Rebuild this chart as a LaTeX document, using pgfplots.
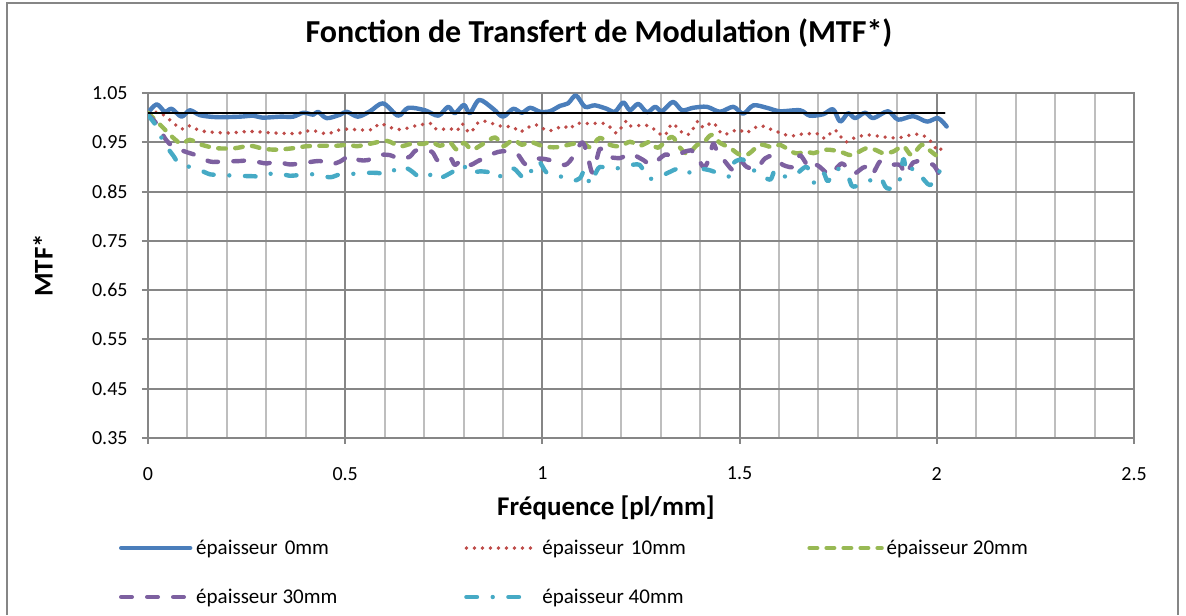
\documentclass[border=0pt]{standalone}
\usepackage{pgfplots}
\pgfplotsset{compat=1.18}
\usepackage{fontspec}
\setmainfont{Carlito}

\definecolor{s0}{HTML}{4A7EBB}
\definecolor{s10}{HTML}{BE4B48}
\definecolor{s20}{HTML}{98B954}
\definecolor{s30}{HTML}{7D60A0}
\definecolor{s40}{HTML}{46AAC5}
\definecolor{gridd}{RGB}{134,134,134}
\definecolor{gridl}{RGB}{190,190,190}

% legend symbol: line of length #1, cell of width #2
\pgfplotsset{limg/.style 2 args={legend image code/.code={%
  \draw[##1] (0pt,3pt) -- (#1,3pt); \path[draw=none] (0pt,0pt) -- (#2,0pt);}}}

\begin{document}
\begin{tikzpicture}
\useasboundingbox (0,0) rectangle (593pt,307.5pt);
\begin{axis}[
  at={(74pt,88.5pt)}, anchor=south west,
  scale only axis, width=493pt, height=172.5pt,
  xmin=0, xmax=2.5, ymin=0.35, ymax=1.05,
  xtick={0,0.5,1,1.5,2,2.5},
  minor xtick={0.1,0.2,0.3,0.4,0.6,0.7,0.8,0.9,1.1,1.2,1.3,1.4,1.6,1.7,1.8,1.9,2.1,2.2,2.3,2.4},
  ytick={0.35,0.45,0.55,0.65,0.75,0.85,0.95,1.05},
  yticklabel={\pgfmathprintnumber[fixed,fixed zerofill,precision=2]{\tick}},
  /pgf/number format/assume math mode=true,
  xmajorgrids, xminorgrids, ymajorgrids,
  major grid style={gridd, line width=1pt},
  minor grid style={gridl, line width=1pt},
  axis line style={gridd, line width=1pt},
  tick style={gridd, line width=1pt},
  tick align=outside, tick pos=left,
  major tick length=3pt, minor tick length=0pt,
  ticklabel style={font=\fontsize{10}{12}\selectfont, text=black},
  xticklabel style={yshift=-8pt},
  yticklabel style={xshift=-3.7pt},
  title={Fonction de Transfert de Modulation (MTF*)},
  title style={at={(axis description cs:0.4574,1.139)}, anchor=center,
    font=\fontsize{16}{19}\selectfont\bfseries},
  xlabel={Fréquence [pl/mm]},
  xlabel style={at={(axis description cs:0.4645,-0.203)}, anchor=center,
    font=\fontsize{13.5}{16}\selectfont\bfseries},
  ylabel={MTF*},
  ylabel style={at={(axis description cs:-0.1065,0.5)}, anchor=center,
    font=\fontsize{13.5}{16}\selectfont\bfseries},
  legend columns=3,
  legend cell align=left,
  legend style={at={(axis description cs:-0.02941,-0.2957)}, anchor=north west,
    draw=none, fill=none, inner sep=0pt, outer sep=0pt,
    /tikz/column sep=0pt, /tikz/row sep=15.3pt,
    font=\fontsize{10.5}{12}\selectfont,
    nodes={inner xsep=0pt, inner ysep=0pt, text height=7pt, text depth=2.2pt, anchor=base west}},
  every axis plot/.append style={smooth, line cap=round, line join=round},
]
% epaisseur 0mm
\addplot[s0, line width=2.2pt, limg={34.5pt}{37.5pt}] table {
0 1.010
0.022 1.027
0.043 1.012
0.06 1.018
0.085 1.002
0.106 1.015
0.132 1.005
0.174 1.001
0.233 1.002
0.267 1.004
0.29 1.000
0.335 1.002
0.368 1.002
0.394 1.010
0.419 1.006
0.431 1.012
0.453 0.999
0.487 1.006
0.504 1.012
0.532 1.002
0.563 1.013
0.596 1.029
0.634 1.004
0.66 1.020
0.702 1.015
0.736 1.004
0.761 1.022
0.778 1.009
0.801 1.026
0.816 1.009
0.84 1.036
0.875 1.018
0.9 1.002
0.926 1.018
0.948 1.010
0.969 1.020
0.994 1.012
1.019 1.013
1.045 1.024
1.065 1.029
1.085 1.045
1.108 1.022
1.133 1.025
1.163 1.018
1.184 1.012
1.205 1.031
1.222 1.015
1.243 1.028
1.265 1.011
1.286 1.022
1.303 1.013
1.331 1.032
1.354 1.015
1.382 1.020
1.417 1.022
1.45 1.012
1.484 1.022
1.509 1.008
1.535 1.025
1.569 1.020
1.602 1.013
1.653 1.015
1.678 1.004
1.712 1.007
1.737 1.017
1.755 0.992
1.775 1.009
1.793 0.999
1.818 1.010
1.839 0.999
1.876 1.013
1.902 0.996
1.94 1.003
1.975 0.992
2.003 0.999
2.025 0.982
};
\addlegendentry[text width=134pt]{épaisseur 0mm}
% epaisseur 10mm
\addplot[s10, line width=1.9pt, dash pattern=on 0pt off 4pt, limg={32.5pt}{38pt}] table {
0 1.010
0.03 1.010
0.056 0.995
0.085 0.977
0.102 0.984
0.136 0.973
0.2 0.969
0.259 0.972
0.317 0.969
0.377 0.968
0.415 0.974
0.454 0.967
0.478 0.974
0.508 0.977
0.533 0.975
0.57 0.976
0.588 0.988
0.622 0.978
0.643 0.976
0.681 0.984
0.719 0.988
0.732 0.976
0.766 0.978
0.783 0.973
0.796 0.988
0.816 0.969
0.837 0.990
0.854 0.993
0.893 0.983
0.926 0.981
0.943 0.971
0.981 0.986
1.015 0.973
1.053 0.983
1.07 0.977
1.085 0.988
1.12 0.988
1.159 0.988
1.176 0.977
1.19 0.969
1.212 0.993
1.222 0.983
1.26 0.985
1.277 0.980
1.306 0.963
1.318 0.973
1.33 0.988
1.357 0.968
1.374 0.967
1.394 0.993
1.408 0.980
1.433 0.990
1.458 0.966
1.496 0.976
1.514 0.969
1.535 0.977
1.552 0.984
1.59 0.973
1.628 0.963
1.661 0.967
1.701 0.967
1.717 0.958
1.742 0.975
1.767 0.951
1.784 0.957
1.822 0.965
1.864 0.961
1.902 0.959
1.94 0.966
1.962 0.965
1.978 0.957
1.991 0.946
2.003 0.932
2.017 0.942
};
\addlegendentry[text width=132.5pt]{épaisseur 10mm}
% epaisseur 20mm
\addplot[s20, line width=2.2pt, dash pattern=on 3.8pt off 4.7pt, limg={36pt}{38.5pt}] table {
0 1.010
0.039 0.979
0.064 0.959
0.085 0.947
0.106 0.955
0.136 0.945
0.174 0.938
0.22 0.938
0.259 0.943
0.292 0.937
0.326 0.935
0.368 0.938
0.402 0.942
0.436 0.943
0.478 0.943
0.508 0.945
0.529 0.942
0.563 0.947
0.605 0.953
0.639 0.942
0.668 0.947
0.7 0.947
0.719 0.951
0.74 0.943
0.766 0.949
0.783 0.935
0.801 0.949
0.821 0.935
0.846 0.945
0.88 0.960
0.9 0.942
0.926 0.955
0.948 0.945
0.969 0.951
1.002 0.942
1.036 0.940
1.078 0.947
1.103 0.949
1.121 0.940
1.146 0.959
1.171 0.945
1.197 0.942
1.222 0.951
1.247 0.943
1.273 0.951
1.293 0.939
1.328 0.961
1.349 0.939
1.369 0.926
1.391 0.944
1.41 0.951
1.429 0.965
1.45 0.949
1.475 0.939
1.5 0.925
1.522 0.926
1.552 0.945
1.582 0.940
1.602 0.945
1.641 0.928
1.67 0.931
1.687 0.928
1.721 0.935
1.755 0.931
1.784 0.924
1.821 0.938
1.843 0.935
1.864 0.928
1.889 0.931
1.915 0.942
1.936 0.924
1.962 0.945
1.983 0.933
2.003 0.921
2.02 0.919
};
\addlegendentry{épaisseur 20mm}
% epaisseur 30mm
\addplot[s30, line width=2.2pt, dash pattern=on 5.3pt off 7.7pt, limg={34.5pt}{37.5pt}] table {
0 1.005
0.022 0.988
0.043 0.958
0.064 0.941
0.098 0.930
0.114 0.926
0.157 0.911
0.19 0.911
0.233 0.912
0.259 0.913
0.301 0.907
0.326 0.911
0.36 0.905
0.402 0.909
0.436 0.912
0.461 0.905
0.487 0.911
0.512 0.923
0.535 0.914
0.558 0.914
0.583 0.924
0.613 0.924
0.639 0.916
0.664 0.921
0.681 0.934
0.719 0.931
0.736 0.912
0.766 0.918
0.778 0.904
0.796 0.914
0.816 0.904
0.837 0.912
0.875 0.927
0.9 0.932
0.935 0.927
0.956 0.906
0.975 0.915
0.994 0.917
1.019 0.914
1.057 0.904
1.078 0.921
1.1 0.950
1.112 0.931
1.125 0.890
1.133 0.900
1.146 0.937
1.163 0.922
1.197 0.918
1.222 0.927
1.256 0.914
1.277 0.905
1.311 0.925
1.331 0.921
1.365 0.932
1.385 0.931
1.408 0.900
1.421 0.914
1.433 0.947
1.442 0.934
1.467 0.907
1.484 0.894
1.5 0.914
1.518 0.900
1.543 0.897
1.564 0.917
1.585 0.922
1.61 0.904
1.641 0.900
1.653 0.924
1.678 0.897
1.695 0.904
1.712 0.894
1.729 0.884
1.759 0.907
1.78 0.890
1.793 0.887
1.818 0.900
1.835 0.884
1.856 0.911
1.873 0.904
1.907 0.904
1.92 0.884
1.94 0.909
1.962 0.911
1.991 0.904
2.008 0.884
2.02 0.887
};
\addlegendentry{épaisseur 30mm}
% epaisseur 40mm
\addplot[s40, line width=2.2pt, dash pattern=on 5.3pt off 7.85pt on 0pt off 7.85pt, limg={29.5pt}{38pt}] table {
0 1.005
0.022 0.982
0.039 0.951
0.064 0.923
0.081 0.905
0.119 0.898
0.157 0.885
0.183 0.884
0.225 0.882
0.271 0.881
0.284 0.879
0.322 0.888
0.36 0.882
0.385 0.884
0.423 0.885
0.461 0.879
0.487 0.885
0.52 0.886
0.555 0.888
0.58 0.888
0.611 0.886
0.639 0.902
0.664 0.894
0.694 0.877
0.723 0.886
0.736 0.876
0.77 0.889
0.799 0.904
0.812 0.888
0.842 0.891
0.871 0.888
0.884 0.877
0.897 0.884
0.926 0.897
0.956 0.875
0.973 0.894
0.99 0.912
1.011 0.888
1.036 0.884
1.074 0.872
1.095 0.877
1.108 0.894
1.121 0.865
1.133 0.884
1.146 0.900
1.176 0.895
1.214 0.902
1.247 0.904
1.265 0.877
1.293 0.879
1.318 0.888
1.349 0.898
1.37 0.888
1.387 0.897
1.421 0.894
1.45 0.886
1.475 0.881
1.486 0.909
1.509 0.915
1.518 0.900
1.547 0.889
1.577 0.874
1.59 0.894
1.61 0.881
1.641 0.884
1.67 0.900
1.69 0.867
1.712 0.888
1.724 0.871
1.746 0.897
1.775 0.879
1.788 0.860
1.826 0.871
1.856 0.879
1.873 0.857
1.902 0.863
1.915 0.916
1.924 0.888
1.94 0.897
1.957 0.884
1.983 0.863
2.003 0.888
2.025 0.901
};
\addlegendentry{épaisseur 40mm}
% reference line
\addplot[black, line width=1pt, sharp plot, forget plot] coordinates {(0,1.01) (2.02,1.01)};
\end{axis}
\draw[gridd, line width=1pt] (3.5pt,0pt) -- (3.5pt,306pt) -- (589pt,306pt) -- (589pt,0pt);
\end{tikzpicture}
\end{document}
